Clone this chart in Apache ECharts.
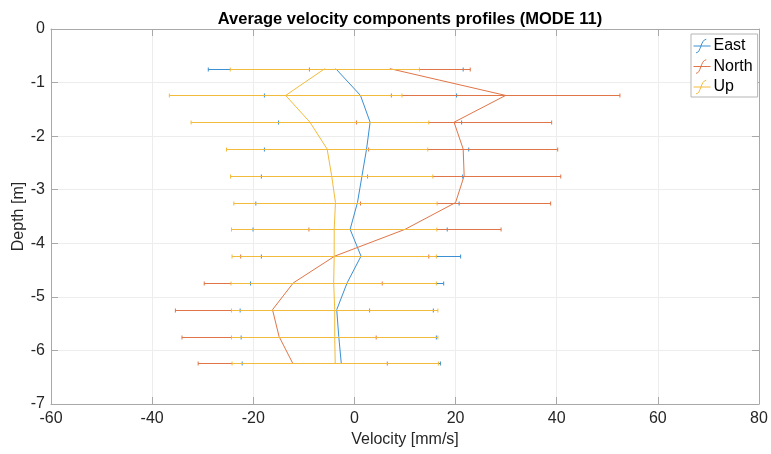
<!DOCTYPE html>
<html>
<head>
<meta charset="utf-8">
<script src="https://cdn.jsdelivr.net/npm/echarts@6/dist/echarts.min.js"></script>
<style>
  html, body { margin: 0; padding: 0; background: #ffffff; }
  #chart { width: 771px; height: 454px; }
</style>
</head>
<body>
<div id="chart"></div>
<script>
// Measurement depths [m]
const depths = [-0.74, -1.24, -1.74, -2.24, -2.74, -3.24, -3.74, -4.24, -4.74, -5.24, -5.74, -6.24];

// Mean velocity components [mm/s] and their standard deviations (half error-bar widths)
const eastMean  = [-3.7, 1.2, 3.1, 2.4, 1.5, 0.6, -0.85, 1.3, -1.45, -3.5, -3.1, -2.6];
const eastErr   = [25.2, 19.0, 18.1, 20.2, 19.9, 20.1, 19.2, 19.7, 19.1, 19.1, 19.3, 19.6];
const northMean = [7.0, 29.9, 19.7, 21.5, 21.7, 20.0, 10.0, -3.9, -12.1, -16.2, -14.9, -12.2];
const northErr  = [15.9, 22.6, 19.3, 18.7, 19.1, 18.8, 19.0, 18.6, 17.6, 19.2, 19.2, 18.7];
const upMean    = [-5.85, -13.6, -8.8, -5.4, -4.5, -3.75, -4.0, -4.0, -4.1, -3.9, -3.9, -3.8];
const upErr     = [18.7, 23.0, 23.5, 19.9, 20.0, 20.1, 20.3, 20.2, 20.3, 20.4, 20.4, 20.4];

const seriesNames = ['East', 'North', 'Up'];
const xTicks = [-60, -40, -20, 0, 20, 40, 60, 80];
const yTicks = [-7, -6, -5, -4, -3, -2, -1, 0];

const colors = ['#3b8fd2', '#e07548', '#f2bb3c'];
const FONT = '"Liberation Sans", Arial, Helvetica, sans-serif';

// Horizontal error bars (mean ± std) drawn with small end caps
function errorBarSeries(idx, means, errs) {
  const color = colors[idx];
  return {
    type: 'custom',
    name: seriesNames[idx],
    xAxisIndex: 0,
    yAxisIndex: 0,
    data: depths.map((d, i) => [means[i] - errs[i], means[i] + errs[i], d]),
    encode: { x: [0, 1], y: 2 },
    itemStyle: { color: color },
    silent: true,
    z: 2 + idx * 2,
    renderItem: function (params, api) {
      const lo = api.coord([api.value(0), api.value(2)]);
      const hi = api.coord([api.value(1), api.value(2)]);
      const y = Math.round(lo[1]) + 0.5;
      const cap = 2;
      const st = { stroke: color, lineWidth: 1 };
      return {
        type: 'group',
        children: [
          { type: 'line', shape: { x1: lo[0], y1: y, x2: hi[0], y2: y }, style: st },
          { type: 'line', shape: { x1: lo[0], y1: y - cap, x2: lo[0], y2: y + cap }, style: st },
          { type: 'line', shape: { x1: hi[0], y1: y - cap, x2: hi[0], y2: y + cap }, style: st }
        ]
      };
    }
  };
}

function profileSeries(idx, means) {
  return {
    type: 'line',
    name: seriesNames[idx],
    xAxisIndex: 0,
    yAxisIndex: 0,
    data: depths.map((d, i) => [means[i], d]),
    showSymbol: false,
    symbol: 'none',
    lineStyle: { color: colors[idx], width: 1 },
    itemStyle: { color: colors[idx] },
    silent: true,
    z: 3 + idx * 2
  };
}

const legendIcon = 'path://M0,9 L20,9 M3,17 C9,17 8,2 15,1';

const axisLineColor = '#a8a8a8';
const gridColor = '#ededed';

const option = {
  animation: false,
  backgroundColor: '#ffffff',
  title: {
    text: 'Average velocity components profiles (MODE 11)',
    left: 405,
    textAlign: 'center',
    top: 6,
    textStyle: { fontFamily: FONT, fontSize: 16.5, fontWeight: 'bold', color: '#000000' }
  },
  legend: {
    orient: 'vertical',
    left: 691,
    top: 34,
    padding: [4, 5, 2, 2],
    itemGap: 4.5,
    itemWidth: 17,
    itemHeight: 16,
    backgroundColor: '#ffffff',
    borderColor: '#b5b5b5',
    borderWidth: 1,
    borderRadius: 0,
    selectedMode: false,
    textStyle: { fontFamily: FONT, fontSize: 16, color: '#000000', padding: [0, 0, 0, -2], lineHeight: 16 },
    data: seriesNames.map((n, i) => ({
      name: n,
      icon: legendIcon,
      itemStyle: { color: 'rgba(0,0,0,0)', borderColor: colors[i], borderWidth: 1 }
    }))
  },
  grid: {
    left: 51,
    right: 12,
    top: 29,
    bottom: 50,
    containLabel: false
  },
  xAxis: [
    {
      type: 'value',
      min: xTicks[0],
      max: xTicks[xTicks.length - 1],
      interval: 20,
      position: 'bottom',
      name: 'Velocity [mm/s]',
      nameLocation: 'middle',
      nameGap: 28,
      nameMoveOverlap: false,
      nameTextStyle: { fontFamily: FONT, fontSize: 16, color: '#262626' },
      axisLine: { show: true, onZero: false, lineStyle: { color: axisLineColor, width: 1 } },
      axisTick: { show: true, inside: true, length: 7, lineStyle: { color: axisLineColor } },
      axisLabel: { fontFamily: FONT, fontSize: 16, color: '#262626', margin: 7 },
      splitLine: { show: true, lineStyle: { color: gridColor, width: 1 } }
    },
    {
      type: 'value',
      min: xTicks[0],
      max: xTicks[xTicks.length - 1],
      interval: 20,
      position: 'top',
      axisLine: { show: true, onZero: false, lineStyle: { color: axisLineColor, width: 1 } },
      axisTick: { show: true, inside: true, length: 7, lineStyle: { color: axisLineColor } },
      axisLabel: { show: false },
      splitLine: { show: false }
    }
  ],
  yAxis: [
    {
      type: 'value',
      min: yTicks[0],
      max: yTicks[yTicks.length - 1],
      interval: 1,
      position: 'left',
      name: 'Depth [m]',
      nameLocation: 'middle',
      nameGap: 24,
      nameMoveOverlap: false,
      nameTextStyle: { fontFamily: FONT, fontSize: 16, color: '#262626' },
      axisLine: { show: true, onZero: false, lineStyle: { color: axisLineColor, width: 1 } },
      axisTick: { show: true, inside: true, length: 7, lineStyle: { color: axisLineColor } },
      axisLabel: { fontFamily: FONT, fontSize: 16, color: '#262626', margin: 6 },
      splitLine: { show: true, lineStyle: { color: gridColor, width: 1 } }
    },
    {
      type: 'value',
      min: yTicks[0],
      max: yTicks[yTicks.length - 1],
      interval: 1,
      position: 'right',
      axisLine: { show: true, onZero: false, lineStyle: { color: axisLineColor, width: 1 } },
      axisTick: { show: true, inside: true, length: 7, lineStyle: { color: axisLineColor } },
      axisLabel: { show: false },
      splitLine: { show: false }
    }
  ],
  series: [
    errorBarSeries(0, eastMean, eastErr),
    profileSeries(0, eastMean),
    errorBarSeries(1, northMean, northErr),
    profileSeries(1, northMean),
    errorBarSeries(2, upMean, upErr),
    profileSeries(2, upMean)
  ]
};

const chart = echarts.init(document.getElementById('chart'), null, { renderer: 'canvas' });
chart.setOption(option);
</script>
</body>
</html>
